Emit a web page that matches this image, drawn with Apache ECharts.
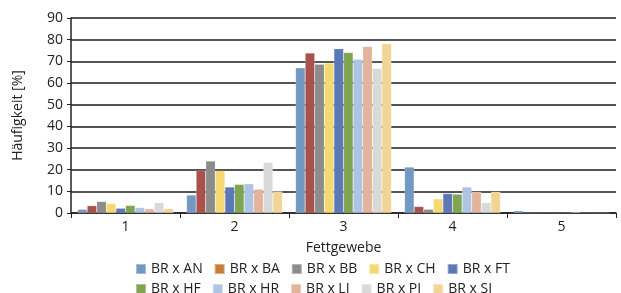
<!DOCTYPE html>
<html>
<head>
<meta charset="utf-8">
<script src="https://cdn.jsdelivr.net/npm/echarts@6/dist/echarts.min.js"></script>
<style>
  html, body { margin: 0; padding: 0; background: #fff; }
  #chart { width: 621px; height: 293px; }
</style>
</head>
<body>
<div id="chart"></div>
<script>
const categories = ['1', '2', '3', '4', '5'];
const seriesNames = ['BR x AN', 'BR x BA', 'BR x BB', 'BR x CH', 'BR x FT',
                     'BR x HF', 'BR x HR', 'BR x LI', 'BR x PI', 'BR x SI'];
const valuesAN = [1.7, 8.3, 67.0, 21.2, 1.0];
const valuesBA = [3.4, 19.6, 73.8, 3.0, 0.2];
const valuesBB = [5.3, 24.0, 68.6, 1.7, 0.1];
const valuesCH = [4.4, 19.5, 69.2, 6.5, 0.2];
const valuesFT = [2.2, 12.0, 75.8, 9.0, 0.1];
const valuesHF = [3.5, 13.2, 74.1, 8.7, 0.2];
const valuesHR = [2.5, 13.5, 71.0, 12.0, 0.5];
const valuesLI = [1.9, 11.0, 76.9, 9.8, 0.2];
const valuesPI = [4.8, 23.4, 66.7, 4.8, 0.1];
const valuesSI = [2.0, 10.0, 78.1, 9.8, 0.1];
const allValues = [valuesAN, valuesBA, valuesBB, valuesCH, valuesFT,
                   valuesHF, valuesHR, valuesLI, valuesPI, valuesSI];
const yTicks = [0, 10, 20, 30, 40, 50, 60, 70, 80, 90];

const barColors = ['#7399C0', '#A9514B', '#8C8C8C', '#F5D872', '#5B78B8',
                   '#7FA553', '#ADC5E5', '#E4B39B', '#D9D9D9', '#F2D595'];
// legend swatch for BA is orange in the original
const legendColors = barColors.slice();
legendColors[1] = '#C87E3A';

const chart = echarts.init(document.getElementById('chart'));
const font = '"Open Sans", sans-serif';
const txt = '#222';

function legendRow(names, top) {
  return {
    data: names.map(n => ({ name: n, itemStyle: { color: legendColors[seriesNames.indexOf(n)] } })),
    left: 130,
    top: top,
    itemWidth: 10,
    itemHeight: 10,
    itemGap: 11,
    icon: 'rect',
    textStyle: { fontFamily: font, fontSize: 14, color: txt }
  };
}

chart.setOption({
  animation: false,
  textStyle: { fontFamily: font },
  grid: { left: 71, right: 5, top: 18, bottom: 80, containLabel: false },
  legend: [
    legendRow(seriesNames.slice(0, 5), 257),
    legendRow(seriesNames.slice(5), 277)
  ],
  xAxis: {
    type: 'category',
    data: categories,
    name: 'Fettgewebe',
    nameLocation: 'middle',
    nameGap: 28,
    nameTextStyle: { fontSize: 14, color: txt },
    axisLine: { lineStyle: { color: txt, width: 1.5 } },
    axisTick: { show: true, length: 5, lineStyle: { color: txt } },
    axisLabel: { fontSize: 14, color: txt, margin: 7 }
  },
  yAxis: {
    type: 'value',
    min: yTicks[0],
    max: yTicks[yTicks.length - 1],
    interval: 10,
    name: 'Häufigkeit [%]',
    nameLocation: 'middle',
    nameGap: 46,
    nameTextStyle: { fontSize: 14, color: txt },
    axisLine: { show: true, lineStyle: { color: txt, width: 1.5 } },
    axisTick: { show: true, length: 4, lineStyle: { color: txt } },
    axisLabel: { fontSize: 14, color: txt, margin: 8 },
    splitLine: { lineStyle: { color: '#555', width: 2 } }
  },
  series: seriesNames.map((n, i) => ({
    name: n,
    type: 'bar',
    data: allValues[i],
    barGap: '0%',
    barCategoryGap: '12%',
    itemStyle: { color: barColors[i], borderColor: 'rgba(255,255,255,0.35)', borderWidth: 0.5 }
  }))
});
</script>
</body>
</html>
